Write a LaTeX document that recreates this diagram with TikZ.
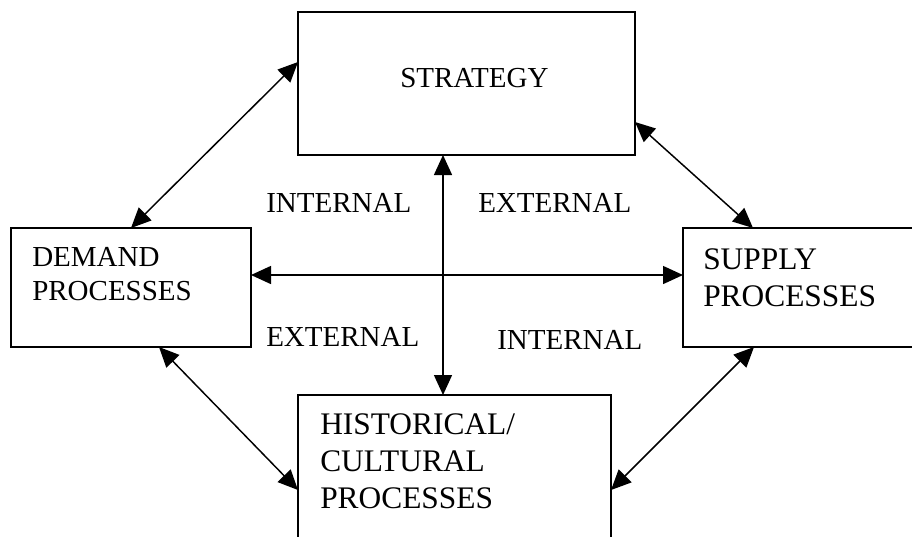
\documentclass[tikz,border=0pt]{standalone}
\usepackage{fontspec}
\setmainfont{Liberation Serif}
\usetikzlibrary{arrows.meta,calc}

\begin{document}
\begin{tikzpicture}[x=.75pt,y=-.75pt,
  box/.style={draw,line width=1.5pt,outer sep=0pt,inner sep=0pt},
  link/.style={>={Triangle[length=15pt,width=13.5pt]},<->,line width=1.1pt},
  lbl/.style={font=\fontsize{21.75}{25}\selectfont,inner sep=0pt,anchor=base west,align=left},
  big/.style={font=\fontsize{23.55}{27.75}\selectfont,inner sep=0pt,anchor=base west,align=left}]
  \useasboundingbox (0,0) rectangle (912,536);
  \clip (0,0) rectangle (912,536);
  % the four boxes
  \node[box,minimum width=252.75pt,minimum height=107.25pt] (strategy) at (466.5,83.5) {};
  \node[box,minimum width=180pt,minimum height=89.25pt] (demand) at (131,287.5) {};
  \node[box,minimum width=174pt,minimum height=89.25pt] (supply) at (799,287.5) {};
  \node[box,minimum width=234.75pt,minimum height=112.5pt] (historical) at (454.5,470) {};
  % box texts (base = last line)
  \node[lbl] (strategytext) at (400,87) {STRATEGY};
  \node[lbl] (demandtext) at (32,300) {DEMAND\\PROCESSES};
  \node[big] (supplytext) at (703,306) {SUPPLY\\PROCESSES};
  \node[big] (historicaltext) at (320,508) {HISTORICAL/\\CULTURAL\\PROCESSES};
  % quadrant labels
  \node[lbl] (intupper) at (266,212) {INTERNAL};
  \node[lbl] (extupper) at (478,212) {EXTERNAL};
  \node[lbl] (extlower) at (266,346) {EXTERNAL};
  \node[lbl] (intlower) at (497,349) {INTERNAL};
  % links
  \draw[link] ($(strategy.north west)+(0,50)$) -- (demand.north);
  \draw[link] ($(strategy.north east)+(0,110)$) -- ($(supply.north west)+(70,0)$);
  \draw[link] ($(supply.south west)+(71,0)$) -- ($(historical.north east)+(0,95)$);
  \draw[link] ($(demand.south west)+(148,0)$) -- ($(historical.north west)+(0,95)$);
  \draw[link] ($(demand.north east)+(0,47)$) -- ($(supply.north west)+(0,47)$);
  \draw[link] ($(strategy.south west)+(145,0)$) -- ($(historical.north west)+(145,0)$);
\end{tikzpicture}
\end{document}
